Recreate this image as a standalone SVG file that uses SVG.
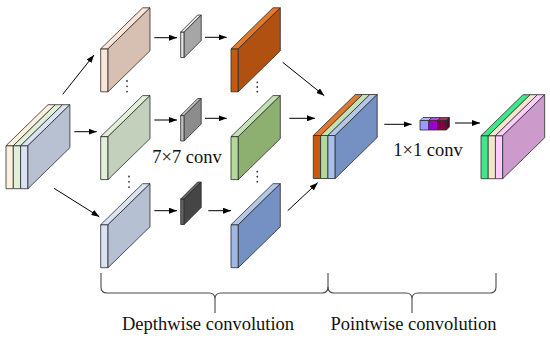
<svg xmlns="http://www.w3.org/2000/svg" xmlns:xlink="http://www.w3.org/1999/xlink" width="550" height="340" viewBox="0 0 550 340">
<style>
.e{stroke:#2b2b2b;stroke-width:0.8;stroke-linejoin:round}
.ar{stroke:#000;stroke-width:1;fill:none}
.br{stroke:#4a4a4a;stroke-width:1.1;fill:none}
.lb{font-size:18.5px;fill:#111}
.dot{fill:#333}
</style>
<defs>
<path id="sf" d="M0,0h7.3v43h-7.3z"/>
<path id="st" d="M0,0l42,-41h7.3l-42,41z"/>
<path id="ss" d="M7.3,0l42,-41v43l-42,41z"/>
<path id="kf" d="M0,0h3.5v25.5h-3.5z"/>
<path id="kt" d="M0,0l17,-17h3.5l-17,17z"/>
<path id="ks" d="M3.5,0l17,-17v25.5l-17,17z"/>
<path id="cf" d="M0,0h8.8v9.5h-8.8z"/>
<path id="ct" d="M0,0l3,-3h8.8l-3,3z"/>
<path id="cs" d="M8.8,0l3,-3v9.5l-3,3z"/>
<marker id="ah" viewBox="0 0 8 6" refX="8" refY="3" markerWidth="8" markerHeight="6" markerUnits="userSpaceOnUse" orient="auto">
<path d="M0,0L8,3L0,6z" fill="#000"/>
</marker>
</defs>
<rect width="550" height="340" fill="#fff"/>

<g id="input">
<use href="#sf" x="6" y="145.7" class="e" fill="#fcf1de"/>
<use href="#st" x="6" y="145.7" class="e" fill="#fcf1de"/>
<use href="#sf" x="13.3" y="145.7" class="e" fill="#e2efd9"/>
<use href="#st" x="13.3" y="145.7" class="e" fill="#e2efd9"/>
<use href="#sf" x="20.6" y="145.7" class="e" fill="#dae3f3"/>
<use href="#st" x="20.6" y="145.7" class="e" fill="#dae3f3"/>
<use href="#ss" x="20.6" y="145.7" class="e" fill="#b7c1d2"/>
</g>

<g id="dw-in-1">
<use href="#sf" x="100.7" y="48.8" class="e" fill="#fbe5d6"/>
<use href="#st" x="100.7" y="48.8" class="e" fill="#fbe5d6"/>
<use href="#ss" x="100.7" y="48.8" class="e" fill="#d7c0b1"/>
</g>
<g id="dw-in-2">
<use href="#sf" x="100.7" y="136.6" class="e" fill="#e2efd9"/>
<use href="#st" x="100.7" y="136.6" class="e" fill="#e2efd9"/>
<use href="#ss" x="100.7" y="136.6" class="e" fill="#c3d0bb"/>
</g>
<g id="dw-in-3">
<use href="#sf" x="100.7" y="224.7" class="e" fill="#dae3f3"/>
<use href="#st" x="100.7" y="224.7" class="e" fill="#dae3f3"/>
<use href="#ss" x="100.7" y="224.7" class="e" fill="#b5c0d2"/>
</g>

<g id="kernel-1">
<use href="#kf" x="180.7" y="32" class="e" fill="#e6e6e6"/>
<use href="#kt" x="180.7" y="32" class="e" fill="#e6e6e6"/>
<use href="#ks" x="180.7" y="32" class="e" fill="#a6a6a6"/>
</g>
<g id="kernel-2">
<use href="#kf" x="180.7" y="115.5" class="e" fill="#c4c4c4"/>
<use href="#kt" x="180.7" y="115.5" class="e" fill="#c4c4c4"/>
<use href="#ks" x="180.7" y="115.5" class="e" fill="#8c8c8c"/>
</g>
<g id="kernel-3">
<use href="#kf" x="180.7" y="199" class="e" fill="#636363"/>
<use href="#kt" x="180.7" y="199" class="e" fill="#636363"/>
<use href="#ks" x="180.7" y="199" class="e" fill="#454545"/>
</g>

<g id="dw-out-1">
<use href="#sf" x="231" y="48.8" class="e" fill="#c55a11"/>
<use href="#st" x="231" y="48.8" class="e" fill="#df7a2e"/>
<use href="#ss" x="231" y="48.8" class="e" fill="#b05011"/>
</g>
<g id="dw-out-2">
<use href="#sf" x="231" y="136.6" class="e" fill="#b3d89a"/>
<use href="#st" x="231" y="136.6" class="e" fill="#c5e0b4"/>
<use href="#ss" x="231" y="136.6" class="e" fill="#8db070"/>
</g>
<g id="dw-out-3">
<use href="#sf" x="231" y="224.7" class="e" fill="#9fb8e3"/>
<use href="#st" x="231" y="224.7" class="e" fill="#b4c7e7"/>
<use href="#ss" x="231" y="224.7" class="e" fill="#7590c2"/>
</g>

<g id="concat">
<use href="#sf" x="313.3" y="135.5" class="e" fill="#c55a11"/>
<use href="#st" x="313.3" y="135.5" class="e" fill="#df7a2e"/>
<use href="#sf" x="320.6" y="135.5" class="e" fill="#b3d89a"/>
<use href="#st" x="320.6" y="135.5" class="e" fill="#c5e0b4"/>
<use href="#sf" x="327.9" y="135.5" class="e" fill="#a8c0ea"/>
<use href="#st" x="327.9" y="135.5" class="e" fill="#b4c7e7"/>
<use href="#ss" x="327.9" y="135.5" class="e" fill="#7590c2"/>
</g>

<g id="pw-kernel">
<use href="#cf" x="420" y="120.5" class="e" fill="#9999ff"/>
<use href="#ct" x="420" y="120.5" class="e" fill="#b3b3ff"/>
<use href="#cf" x="428.8" y="120.5" class="e" fill="#9900cc"/>
<use href="#ct" x="428.8" y="120.5" class="e" fill="#b84ddb"/>
<use href="#cf" x="437.6" y="120.5" class="e" fill="#80003f"/>
<use href="#ct" x="437.6" y="120.5" class="e" fill="#a3345f"/>
<use href="#cs" x="437.6" y="120.5" class="e" fill="#5e002e"/>
</g>

<g id="output">
<use href="#sf" x="481" y="135.7" class="e" fill="#3ee88a"/>
<use href="#st" x="481" y="135.7" class="e" fill="#3ee88a"/>
<use href="#sf" x="488.2" y="135.7" class="e" fill="#f1e8cc"/>
<use href="#st" x="488.2" y="135.7" class="e" fill="#f1e8cc"/>
<use href="#sf" x="495.4" y="135.7" class="e" fill="#ffccff"/>
<use href="#st" x="495.4" y="135.7" class="e" fill="#ffccff"/>
<use href="#ss" x="495.4" y="135.7" class="e" fill="#cc9bcc"/>
</g>

<g id="connectors">
<line class="ar" x1="62.7" y1="94.3" x2="94" y2="55" marker-end="url(#ah)"/>
<line class="ar" x1="74.3" y1="131.7" x2="96.7" y2="131.7" marker-end="url(#ah)"/>
<line class="ar" x1="54" y1="188.3" x2="99.3" y2="216.7" marker-end="url(#ah)"/>
<line class="ar" x1="154.3" y1="37.7" x2="177" y2="37.7" marker-end="url(#ah)"/>
<line class="ar" x1="154.3" y1="120" x2="177" y2="120" marker-end="url(#ah)"/>
<line class="ar" x1="154.3" y1="210.7" x2="177" y2="210.7" marker-end="url(#ah)"/>
<line class="ar" x1="205" y1="37.3" x2="226.7" y2="37.3" marker-end="url(#ah)"/>
<line class="ar" x1="205" y1="118.3" x2="226.7" y2="118.3" marker-end="url(#ah)"/>
<line class="ar" x1="208.3" y1="210.7" x2="231" y2="210.7" marker-end="url(#ah)"/>
<line class="ar" x1="282.7" y1="62.3" x2="324.3" y2="95.7" marker-end="url(#ah)"/>
<line class="ar" x1="289.3" y1="118.3" x2="315" y2="118.3" marker-end="url(#ah)"/>
<line class="ar" x1="287.7" y1="210.7" x2="317.7" y2="182.7" marker-end="url(#ah)"/>
<line class="ar" x1="384.3" y1="124.3" x2="411.7" y2="124.3" marker-end="url(#ah)"/>
<line class="ar" x1="455" y1="123" x2="480" y2="123" marker-end="url(#ah)"/>
</g>

<g id="ellipses">
<circle class="dot" cx="127" cy="81" r="0.9"/>
<circle class="dot" cx="127" cy="86.3" r="0.9"/>
<circle class="dot" cx="127" cy="91.6" r="0.9"/>
<circle class="dot" cx="129" cy="176.5" r="0.9"/>
<circle class="dot" cx="129" cy="181.8" r="0.9"/>
<circle class="dot" cx="129" cy="187.1" r="0.9"/>
<circle class="dot" cx="257.3" cy="82.3" r="0.9"/>
<circle class="dot" cx="257.3" cy="87" r="0.9"/>
<circle class="dot" cx="257.3" cy="91.7" r="0.9"/>
<circle class="dot" cx="257.3" cy="171.7" r="0.9"/>
<circle class="dot" cx="257.3" cy="176.7" r="0.9"/>
<circle class="dot" cx="257.3" cy="181.7" r="0.9"/>
</g>

<g id="braces">
<path class="br" d="M101,273L101,287Q101,293 107,293L209,293Q215,293 215,299L215,313M215,299Q215,293 221,293L322,293Q328,293 328,287L328,273"/>
<path class="br" d="M328,287Q328,293 334,293L406,293Q412,293 412,299L412,313M412,299Q412,293 418,293L490,293Q496,293 496,287L496,273"/>
</g>

<g id="labels" font-family="'Liberation Serif', 'Times New Roman', serif">
<text class="lb" x="152.3" y="163">7×7 conv</text>
<text class="lb" x="393.3" y="156">1×1 conv</text>
<text class="lb" x="208" y="330" text-anchor="middle">Depthwise convolution</text>
<text class="lb" x="413.5" y="330" text-anchor="middle">Pointwise convolution</text>
</g>
</svg>
